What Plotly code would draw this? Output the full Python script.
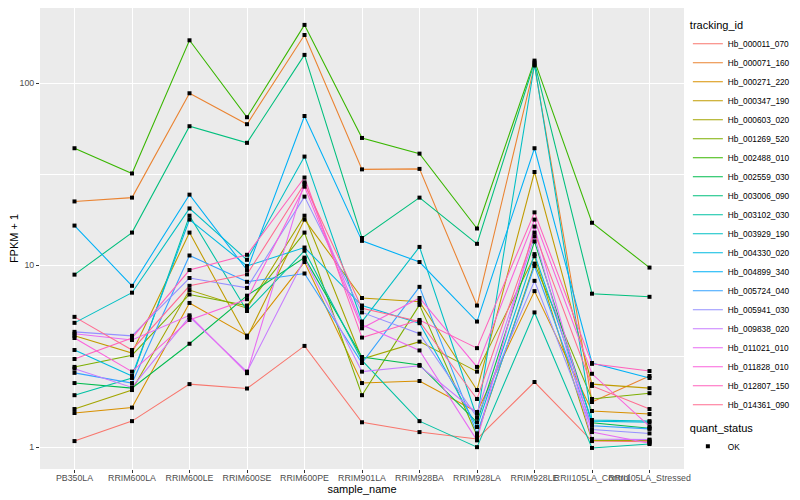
import plotly.graph_objects as go

samples = ["PB350LA", "RRIM600LA", "RRIM600LE", "RRIM600SE", "RRIM600PE", "RRIM901LA",
           "RRIM928BA", "RRIM928LA", "RRIM928LE", "RRII105LA_Control", "RRII105LA_Stressed"]

tracking_ids = ["Hb_000011_070", "Hb_000071_160", "Hb_000271_220", "Hb_000347_190", "Hb_000603_020",
                "Hb_001269_520", "Hb_002488_010", "Hb_002559_030", "Hb_003006_090", "Hb_003102_030",
                "Hb_003929_190", "Hb_004330_020", "Hb_004899_340", "Hb_005724_040", "Hb_005941_030",
                "Hb_009838_020", "Hb_011021_010", "Hb_011828_010", "Hb_012807_150", "Hb_014361_090"]

hb_000011_070 = [1.08, 1.39, 2.22, 2.1, 3.6, 1.37, 1.21, 1.11, 2.28, 1.08, 1.07]
hb_000071_160 = [22.4, 23.5, 88, 59.5, 184, 33.6, 33.8, 6.0, 125, 1.77, 2.46]
hb_000271_220 = [1.54, 1.65, 6.2, 4.1, 10.4, 2.25, 2.31, 1.56, 7.2, 1.58, 1.52]
hb_000347_190 = [4.09, 3.29, 15.1, 4.0, 17.8, 6.6, 6.3, 2.06, 32.5, 2.22, 2.11]
hb_000603_020 = [1.62, 2.06, 7.3, 5.8, 18.7, 3.05, 3.8, 2.6, 11.2, 1.09, 1.09]
hb_001269_520 = [2.76, 3.2, 6.9, 6.0, 15.1, 1.93, 6.05, 1.16, 10.2, 1.84, 1.98]
hb_002488_010 = [43.9, 31.9, 172, 65, 209, 50, 41, 15.9, 133, 17.1, 9.7]
hb_002559_030 = [2.25, 2.11, 3.7, 6.8, 11.0, 3.13, 2.83, 1.37, 13.5, 1.36, 1.27]
hb_003006_090 = [8.87, 15.1, 58, 47, 143, 14.1, 23.5, 13.1, 130, 6.97, 6.7]
hb_003102_030 = [1.93, 2.4, 18.7, 5.6, 12.0, 3.0, 1.39, 1.0, 5.5, 0.99, 1.04]
hb_003929_190 = [4.82, 7.06, 20.5, 10.7, 39.5, 4.9, 12.6, 1.45, 127, 1.41, 1.39]
hb_004330_020 = [3.42, 2.46, 17.8, 9.9, 12.5, 6.0, 4.8, 1.29, 11.5, 1.39, 1.37]
hb_004899_340 = [16.5, 7.7, 24.4, 9.4, 66, 13.6, 10.4, 4.9, 43.9, 2.9, 2.4]
hb_005724_040 = [2.56, 2.25, 11.3, 8.1, 9.0, 2.9, 7.6, 1.19, 9.9, 1.31, 1.26]
hb_005941_030 = [4.3, 4.09, 8.5, 7.5, 23.8, 5.5, 4.2, 1.46, 8.2, 1.25, 1.19]
hb_009838_020 = [2.7, 2.13, 5.2, 2.6, 10.8, 2.6, 2.8, 1.54, 14.4, 1.11, 1.1]
hb_011021_010 = [4.2, 3.88, 5.3, 2.55, 28.5, 4.7, 3.4, 1.09, 16.3, 1.21, 1.05]
hb_011828_010 = [3.98, 2.6, 5.0, 6.5, 27, 4.5, 6.6, 2.76, 17.8, 2.53, 1.3]
hb_012807_150 = [3.05, 3.98, 9.4, 11.4, 30.3, 4.0, 5.0, 3.5, 19.5, 2.87, 2.62]
hb_014361_090 = [5.2, 3.42, 7.7, 8.9, 28, 5.8, 4.9, 1.84, 15.1, 2.17, 1.62]

series_values = [hb_000011_070, hb_000071_160, hb_000271_220, hb_000347_190, hb_000603_020,
                 hb_001269_520, hb_002488_010, hb_002559_030, hb_003006_090, hb_003102_030,
                 hb_003929_190, hb_004330_020, hb_004899_340, hb_005724_040, hb_005941_030,
                 hb_009838_020, hb_011021_010, hb_011828_010, hb_012807_150, hb_014361_090]

quant_status = "OK"

colors = ["#F8766D", "#EA8331", "#D89000", "#C09B00", "#A3A500", "#7CAE00", "#39B600", "#00BB4E",
          "#00BF7D", "#00C1A3", "#00BFC4", "#00BAE0", "#00B0F6", "#35A2FF", "#9590FF", "#C77CFF",
          "#E76BF3", "#FA62DB", "#FF62BC", "#FF6C91"]

FONT = "Liberation Sans, Arial, Helvetica, sans-serif"

fig = go.Figure()
for tid, vals, col in zip(tracking_ids, series_values, colors):
    fig.add_trace(go.Scatter(x=samples, y=vals, mode="lines", name=tid,
                             line=dict(color=col, width=1.07), legend="legend"))

px_x, px_y = [], []
for vals in series_values:
    px_x.extend(samples)
    px_y.extend(vals)
fig.add_trace(go.Scatter(x=px_x, y=px_y, mode="markers", name=quant_status,
                         marker=dict(symbol="square", size=4, color="black"),
                         legend="legend2"))

# page has an 8px body margin: figure is 792x492 so it fills the 800x500 window
fig.update_layout(
    width=792, height=492,
    margin=dict(l=32, r=116, t=0, b=30.5),
    paper_bgcolor="white", plot_bgcolor="#EBEBEB",
    font=dict(family=FONT, size=9, color="black"),
    legend=dict(title=dict(text="tracking_id", font=dict(size=11)),
                font=dict(size=8.3), x=1.006, xanchor="left", y=0.985, yanchor="top",
                itemwidth=30, bgcolor="rgba(0,0,0,0)", tracegroupgap=0),
    legend2=dict(title=dict(text="quant_status", font=dict(size=11)),
                 font=dict(size=8.3), x=1.006, xanchor="left", y=0.1116, yanchor="top",
                 itemwidth=30, bgcolor="rgba(0,0,0,0)"),
    xaxis=dict(type="category", categoryorder="array", categoryarray=samples,
               range=[-0.6, 10.6], showgrid=True, gridcolor="white", gridwidth=1.07,
               zeroline=False, ticks="outside", ticklen=3, tickcolor="#333333", tickwidth=1,
               tickangle=0, tickfont=dict(size=8.8, color="#4D4D4D"), ticklabelstandoff=-3,
               title=dict(text="sample_name", font=dict(size=11), standoff=0),
               showline=False, automargin=False),
    yaxis=dict(type="log", range=[-0.12, 2.413], tickmode="array", tickvals=[1, 10, 100],
               ticktext=["1", "10", "100"], showgrid=True, gridcolor="white", gridwidth=1.07,
               minor=dict(tickmode="array", tickvals=[3.1623, 31.623], showgrid=True,
                          gridcolor="white", gridwidth=0.53, ticks=""),
               zeroline=False, ticks="outside", ticklen=3, tickcolor="#333333", tickwidth=1,
               tickfont=dict(size=8.8, color="#4D4D4D"),
               title=dict(text="FPKM + 1", font=dict(size=11), standoff=6),
               showline=False, automargin=False),
)

fig.write_html("out.html")
